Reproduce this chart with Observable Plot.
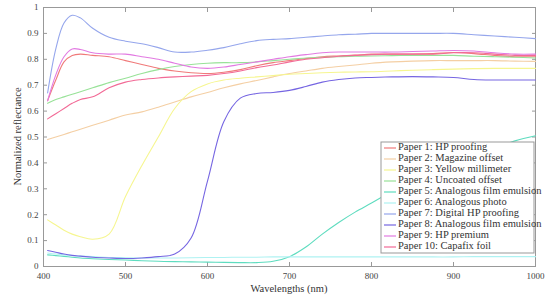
<!DOCTYPE html>
<html>
<head>
<meta charset="utf-8">
<script src="https://cdn.jsdelivr.net/npm/d3@7"></script>
<script src="https://cdn.jsdelivr.net/npm/@observablehq/plot@0.6"></script>
<style>
  body { margin: 0; background: #fff; }
  #chart svg, #chart svg text { font-family: "Liberation Serif", "DejaVu Serif", serif !important; }
</style>
</head>
<body>
<div id="chart"></div>
<script>
// Wavelengths (nm) shared by all series
const wavelengths = [405,415,425,435,445,460,480,500,520,540,560,580,600,620,640,660,680,700,720,740,760,780,800,825,850,875,900,925,950,975,1000];

const paperNames = [
  "Paper 1: HP proofing",
  "Paper 2: Magazine offset",
  "Paper 3: Yellow millimeter",
  "Paper 4: Uncoated offset",
  "Paper 5: Analogous film emulsion",
  "Paper 6: Analogous photo",
  "Paper 7: Digital HP proofing",
  "Paper 8: Analogous film emulsion",
  "Paper 9: HP premium",
  "Paper 10: Capafix foil"
];
const paperColors = ["#f07a7a","#f4cfa4","#f6f690","#98e298","#5edcbf","#aef2f2","#95a6ec","#7666e2","#e27ae2","#f26a96"];

const paper1  = [0.64,0.72,0.79,0.815,0.82,0.815,0.81,0.795,0.78,0.765,0.755,0.748,0.745,0.75,0.76,0.775,0.787,0.795,0.803,0.81,0.813,0.816,0.82,0.82,0.82,0.822,0.826,0.822,0.815,0.81,0.81];
const paper2  = [0.49,0.50,0.51,0.52,0.53,0.545,0.565,0.585,0.597,0.615,0.635,0.655,0.672,0.69,0.705,0.718,0.732,0.745,0.755,0.765,0.772,0.778,0.785,0.79,0.793,0.795,0.795,0.795,0.795,0.793,0.792];
const paper3  = [0.18,0.16,0.14,0.125,0.115,0.105,0.125,0.27,0.39,0.50,0.61,0.675,0.705,0.72,0.727,0.732,0.737,0.742,0.745,0.748,0.75,0.751,0.752,0.755,0.758,0.76,0.762,0.764,0.765,0.765,0.765];
const paper4  = [0.63,0.645,0.655,0.665,0.675,0.69,0.71,0.727,0.745,0.76,0.772,0.78,0.785,0.787,0.787,0.79,0.795,0.80,0.805,0.808,0.81,0.812,0.813,0.814,0.815,0.815,0.815,0.812,0.81,0.808,0.805];
const paper5  = [0.045,0.042,0.039,0.036,0.033,0.03,0.027,0.025,0.022,0.02,0.019,0.018,0.017,0.016,0.015,0.015,0.02,0.038,0.075,0.125,0.17,0.21,0.245,0.29,0.33,0.365,0.395,0.425,0.455,0.485,0.505];
const paper6  = [0.052,0.048,0.045,0.042,0.04,0.038,0.035,0.034,0.033,0.033,0.033,0.034,0.035,0.035,0.036,0.036,0.037,0.037,0.037,0.037,0.037,0.037,0.037,0.037,0.037,0.037,0.037,0.038,0.038,0.038,0.038];
const paper7  = [0.67,0.84,0.94,0.97,0.96,0.92,0.885,0.87,0.86,0.845,0.828,0.828,0.835,0.845,0.86,0.872,0.877,0.88,0.885,0.89,0.895,0.897,0.90,0.90,0.90,0.90,0.90,0.895,0.89,0.885,0.88];
const paper8  = [0.062,0.055,0.048,0.043,0.04,0.036,0.033,0.031,0.033,0.038,0.048,0.11,0.33,0.56,0.65,0.668,0.672,0.68,0.695,0.712,0.722,0.728,0.73,0.732,0.733,0.732,0.73,0.722,0.72,0.72,0.72];
const paper9  = [0.64,0.74,0.81,0.84,0.838,0.825,0.82,0.82,0.81,0.80,0.785,0.77,0.765,0.77,0.78,0.79,0.80,0.81,0.818,0.825,0.828,0.828,0.828,0.828,0.83,0.832,0.834,0.832,0.825,0.82,0.82];
const paper10 = [0.57,0.59,0.61,0.63,0.645,0.655,0.69,0.712,0.722,0.728,0.732,0.735,0.738,0.745,0.755,0.768,0.778,0.79,0.80,0.806,0.812,0.815,0.818,0.82,0.82,0.82,0.825,0.825,0.82,0.815,0.815];

const xTicks = [400,500,600,700,800,900,1000];
const xTickLabels = ["400","500","600","700","800","900","1000"];
const yTicks = [0,0.1,0.2,0.3,0.4,0.5,0.6,0.7,0.8,0.9,1];
const yTickLabels = ["0","0.1","0.2","0.3","0.4","0.5","0.6","0.7","0.8","0.9","1"];

const seriesValues = [paper1,paper2,paper3,paper4,paper5,paper6,paper7,paper8,paper9,paper10];
const rows = [];
seriesValues.forEach((vals, i) => {
  vals.forEach((v, j) => rows.push({paper: paperNames[i], wl: wavelengths[j], r: v}));
});

const W = 551, H = 296;
const mL = 43, mT = 7, mR = 16, mB = 30;
const serif = '"Liberation Serif", "DejaVu Serif", serif';

const chart = Plot.plot({
  width: W, height: H,
  marginLeft: mL, marginTop: mT, marginRight: mR, marginBottom: mB,
  style: {fontSize: "9px", color: "#333", background: "#fff"},
  x: {domain: [400, 1000]},
  y: {domain: [0, 1]},
  color: {domain: paperNames, range: paperColors},
  marks: [
    Plot.frame({stroke: "#999", strokeWidth: 1}),
    Plot.axisX({ticks: xTicks, tickSize: 0, tickPadding: 6, tickFormat: (d, i) => xTickLabels[i], label: null, fontSize: 9, fill: "#444"}),
    Plot.axisX({ticks: xTicks, anchor: "bottom", tickSize: -4, tickFormat: () => "", label: null, stroke: "#999"}),
    Plot.axisX({ticks: xTicks, anchor: "top", tickSize: -4, tickFormat: () => "", label: null, stroke: "#999"}),
    Plot.axisY({ticks: yTicks, tickSize: 0, tickPadding: 5, tickFormat: (d, i) => yTickLabels[i], label: null, fontSize: 9, fill: "#444"}),
    Plot.axisY({ticks: yTicks, anchor: "left", tickSize: -4, tickFormat: () => "", label: null, stroke: "#999"}),
    Plot.axisY({ticks: yTicks, anchor: "right", tickSize: -4, tickFormat: () => "", label: null, stroke: "#999"}),
    Plot.line(rows, {x: "wl", y: "r", z: "paper", stroke: "paper", strokeWidth: 1.1, curve: "catmull-rom"})
  ]
});

chart.style.fontFamily = serif;
const svg = d3.select(chart);
svg.selectAll("text").attr("font-family", serif);

// Axis titles
svg.append("text")
  .attr("x", mL + (W - mL - mR) / 2).attr("y", H - 4)
  .attr("text-anchor", "middle").attr("font-size", 10.5).attr("fill", "#333")
  .attr("font-family", serif)
  .text("Wavelengths (nm)");
svg.append("text")
  .attr("transform", `translate(19,${mT + (H - mT - mB) / 2}) rotate(-90)`)
  .attr("text-anchor", "middle").attr("dominant-baseline", "middle")
  .attr("font-size", 10.5).attr("fill", "#333").attr("font-family", serif)
  .text("Normalized reflectance");

// Legend box (inside axes, lower right)
const lx = 381, ly = 142, lw = 153, rowH = 11;
const lg = svg.append("g").attr("text-anchor", "start");
lg.append("rect").attr("x", lx).attr("y", ly).attr("width", lw).attr("height", rowH * paperNames.length + 1)
  .attr("fill", "#fff").attr("stroke", "#999");
paperNames.forEach((name, i) => {
  const cy = ly + 6 + i * rowH;
  lg.append("line").attr("x1", lx + 3).attr("x2", lx + 15).attr("y1", cy).attr("y2", cy)
    .attr("stroke", paperColors[i]).attr("stroke-width", 1.2);
  lg.append("text").attr("x", lx + 17).attr("y", cy).attr("dominant-baseline", "middle")
    .attr("text-anchor", "start").attr("font-family", serif)
    .attr("font-size", 10.5).attr("fill", "#333").text(name);
});

document.getElementById("chart").append(chart);
</script>
</body>
</html>
